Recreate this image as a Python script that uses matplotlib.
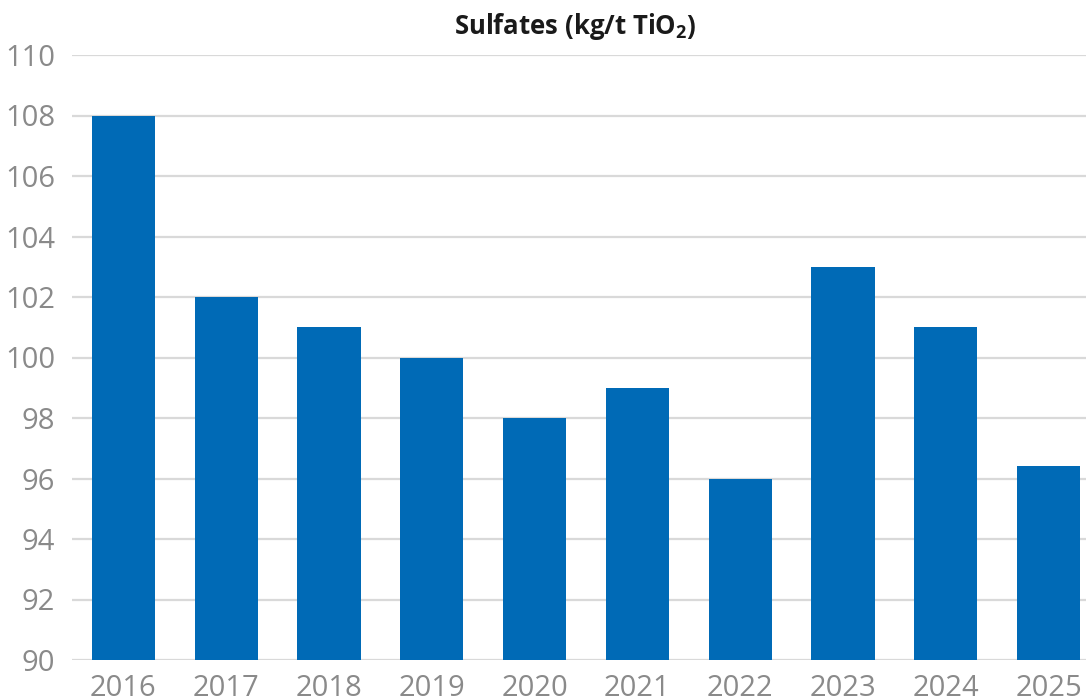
import matplotlib
matplotlib.use("Agg")
import matplotlib.pyplot as plt

plt.rcParams['font.family'] = ['Open Sans', 'DejaVu Sans']
plt.rcParams['mathtext.fontset'] = 'custom'
plt.rcParams['mathtext.rm'] = 'Open Sans'
plt.rcParams['mathtext.bf'] = 'Open Sans:bold'

years = ["2016", "2017", "2018", "2019", "2020", "2021", "2022", "2023", "2024", "2025"]
values = [108, 102, 101, 100, 98, 99, 96, 103, 101, 96.4]
y_ticks = list(range(90, 111, 2))

W, H = 1086, 698
fig = plt.figure(figsize=(W / 100, H / 100), dpi=100)
# plot area runs past the right edge, as in the reference crop
ax = fig.add_axes([72 / W, (H - 660) / H, (1100 - 72) / W, (660 - 55) / H])

x = range(len(years))
ax.bar(x, values, width=0.615, color="#006AB6", zorder=3)

ax.set_xlim(-0.5, len(years) - 0.5)
ax.set_ylim(90, 110)
ax.set_yticks(y_ticks)
ax.set_xticks(list(x))
ax.set_xticklabels(years)
ax.yaxis.grid(True, color="#d9d9d9", linewidth=1.6, zorder=0)
ax.set_axisbelow(True)
for s in ax.spines.values():
    s.set_visible(False)
ax.tick_params(axis="both", length=0, labelsize=21, labelcolor="#8a8a8a")
ax.tick_params(axis="y", pad=12)
ax.tick_params(axis="x", pad=10)

fig.text(575 / W, 1 - 27 / H, r"Sulfates (kg/t TiO$_\mathbf{2}$)", ha="center", va="center",
         fontsize=18.5, fontweight="bold", color="#1a1a1a")

fig.savefig("out.png", dpi=100)
